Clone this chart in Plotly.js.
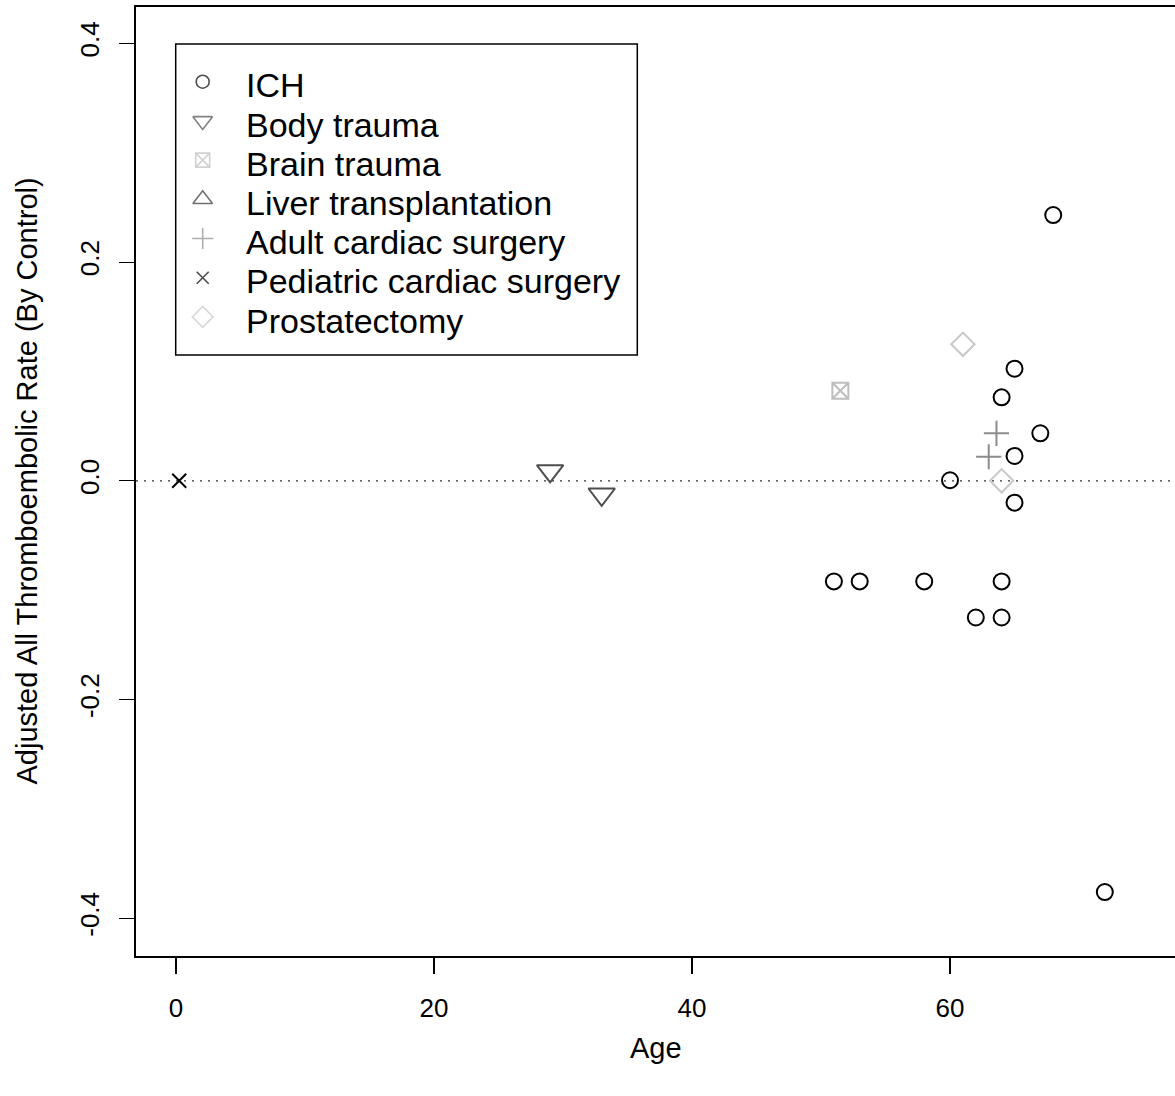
<!DOCTYPE html>
<html>
<head>
<meta charset="utf-8">
<script src="https://cdn.plot.ly/plotly-3.0.1.min.js"></script>
<style>
html,body{margin:0;padding:0;overflow:hidden;background:#fff;}
#chart{width:1175px;height:1096px;}
</style>
</head>
<body>
<div id="chart"></div>
<script>
// ---- data ----
const categories = ["ICH", "Body trauma", "Brain trauma", "Liver transplantation",
  "Adult cardiac surgery", "Pediatric cardiac surgery", "Prostatectomy"];

const ichAge  = [68, 65, 64, 67, 65, 60, 65, 51, 53, 58, 64, 62, 64, 72];
const ichRate = [0.243, 0.1025, 0.0763, 0.0434, 0.0227, 0.0005, -0.020, -0.092, -0.092, -0.092, -0.092, -0.125, -0.125, -0.376];

const bodyAge  = [29, 33];
const bodyRate = [0.009, -0.0123];

const brainAge  = [51.5];
const brainRate = [0.0824];

const liverAge  = [];
const liverRate = [];

const adultAge  = [63.6, 63.0];
const adultRate = [0.0434, 0.022];

const pedAge  = [0.25];
const pedRate = [0.0];

const prostAge  = [61, 64];
const prostRate = [0.1248, 0.0];

const xTicks = [0, 20, 40, 60];
const yTicks = [-0.4, -0.2, 0.0, 0.2, 0.4];
const yTickText = ["-0.4", "-0.2", "0.0", "0.2", "0.4"];

// ---- styles ----
const styles = [
  {symbol: "circle-open",        color: "#000000", size: 16, lsize: 13},
  {symbol: "triangle-down-open", color: "#4d4d4d", size: 23, lsize: 17},
  {symbol: "square-x-open",      color: "#bebebe", size: 16, lsize: 14},
  {symbol: "triangle-up-open",   color: "#333333", size: 23, lsize: 17},
  {symbol: "cross-thin-open",    color: "#8c8c8c", size: 18, lsize: 15},
  {symbol: "x-thin-open",        color: "#000000", size: 14, lsize: 12},
  {symbol: "diamond-open",       color: "#c8c8c8", size: 18, lsize: 16}
];
const seriesX = [ichAge, bodyAge, brainAge, liverAge, adultAge, pedAge, prostAge];
const seriesY = [ichRate, bodyRate, brainRate, liverRate, adultRate, pedRate, prostRate];

const FONT = "Liberation Sans, Arial, Helvetica, sans-serif";
const L = 136, T = 7, W = 1039, H = 949;
const pxX = p => (p - L) / W;
const pxY = p => (T + H - p) / H;

const traces = categories.map((c, i) => ({
  type: "scatter", mode: "markers", name: c,
  x: seriesX[i], y: seriesY[i], showlegend: false,
  marker: {symbol: styles[i].symbol, size: styles[i].size, color: styles[i].color,
           line: {width: 2, color: styles[i].color}},
  hoverinfo: "x+y+name"
}));

// legend symbols (drawn on pixel-scaled hidden axes)
const legSymX = 202.7, legSymY0 = 81.7, legStep = 39.2, legTextX = 244, legTextY0 = 85.3;
traces.push({
  type: "scatter", mode: "markers", xaxis: "x2", yaxis: "y2", showlegend: false,
  hoverinfo: "skip",
  x: categories.map(() => legSymX),
  y: categories.map((c, i) => legSymY0 + i * legStep),
  marker: {
    symbol: styles.map(s => s.symbol),
    size: styles.map(s => s.lsize),
    color: styles.map(s => s.color),
    line: {width: 1.6, color: styles.map(s => s.color)}
  }
});

const annotations = categories.map((c, i) => ({
  xref: "x2", yref: "y2", x: legTextX, y: legTextY0 + i * legStep,
  xanchor: "left", yanchor: "middle", showarrow: false, text: c,
  font: {family: FONT, size: 34, color: "#000"}
}));
annotations.push({
  xref: "paper", yref: "paper", x: 0.5, y: pxY(1048), xanchor: "center", yanchor: "middle",
  showarrow: false, text: "Age", font: {family: FONT, size: 29, color: "#000"}
});
annotations.push({
  xref: "paper", yref: "paper", x: pxX(26), y: 0.5, xanchor: "center", yanchor: "middle",
  textangle: -90, showarrow: false, text: "Adjusted All Thromboembolic Rate (By Control)",
  font: {family: FONT, size: 29, color: "#000"}
});

const layout = {
  width: 1175, height: 1096,
  margin: {l: L, r: 0, t: T, b: 1096 - T - H},
  paper_bgcolor: "#fff", plot_bgcolor: "#fff",
  font: {family: FONT, color: "#000"},
  showlegend: false,
  xaxis: {
    range: [-3.10, 77.44], tickvals: xTicks, ticktext: xTicks.map(String),
    showgrid: false, zeroline: false, showline: true, mirror: true,
    linecolor: "#000", linewidth: 2, ticks: "outside", ticklen: 16, tickwidth: 1.5,
    tickcolor: "#000", tickfont: {family: FONT, size: 26, color: "#000"},
    ticklabelstandoff: 12
  },
  yaxis: {
    range: [-0.4345, 0.4332], tickvals: yTicks, ticktext: yTickText,
    showgrid: false, zeroline: false, showline: true, mirror: false,
    linecolor: "#000", linewidth: 2, ticks: "outside", ticklen: 15, tickwidth: 1,
    tickcolor: "#000", tickangle: -90, tickfont: {family: FONT, size: 26, color: "#000"},
    ticklabelstandoff: 10
  },
  xaxis2: {overlaying: "x", range: [L, L + W], visible: false, fixedrange: true},
  yaxis2: {overlaying: "y", range: [T + H, T], autorange: false, visible: false, fixedrange: true},
  shapes: [
    {type: "line", xref: "paper", yref: "y", x0: 0, x1: 1, y0: 0, y1: 0,
     line: {color: "#333", width: 1.3, dash: "2px,6px"}, layer: "below"},
    {type: "rect", xref: "paper", yref: "paper",
     x0: pxX(175.7), x1: pxX(637.3), y0: pxY(355), y1: pxY(44),
     line: {color: "#000", width: 1.5}, fillcolor: "rgba(0,0,0,0)"}
  ],
  annotations: annotations
};

Plotly.newPlot("chart", traces, layout, {displayModeBar: false, staticPlot: true});
</script>
</body>
</html>
